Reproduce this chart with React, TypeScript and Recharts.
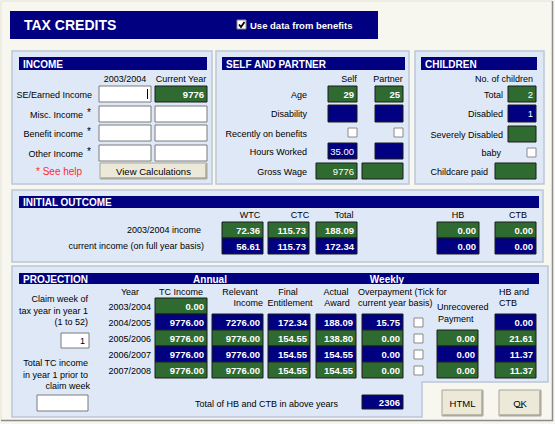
import React from 'react';
import { Surface, Layer, Rectangle, Text } from 'recharts';

// values
const incomeLabels = ['SE/Earned Income', 'Misc. Income', 'Benefit income', 'Other Income'];
const incomePrior = ['', '', '', ''];
const incomeCurrent = ['9776', '', '', ''];

const selfLabels = ['Age', 'Disability', 'Recently on benefits', 'Hours Worked', 'Gross Wage'];
const selfValues = ['29', '', null, '35.00', '9776'];
const partnerValues = ['25', '', null, '', ''];

const childLabels = ['Total', 'Disabled', 'Severely Disabled', 'baby', 'Childcare paid'];
const childValues = ['2', '1', '', null, ''];

const outcomeRows = ['2003/2004 income', 'current income (on full year basis)'];
const outcomeCols = ['WTC', 'CTC', 'Total', 'HB', 'CTB'];
const outcomePrior = ['72.36', '115.73', '188.09', '0.00', '0.00'];
const outcomeCurrent = ['56.61', '115.73', '172.34', '0.00', '0.00'];

const years = ['2003/2004', '2004/2005', '2005/2006', '2006/2007', '2007/2008'];
const tcIncome = ['0.00', '9776.00', '9776.00', '9776.00', '9776.00'];
const relevantIncome = [null, '7276.00', '9776.00', '9776.00', '9776.00'];
const finalEntitlement = [null, '172.34', '154.55', '154.55', '154.55'];
const actualAward = [null, '188.09', '138.80', '154.55', '154.55'];
const overpayment = [null, '15.75', '0.00', '0.00', '0.00'];
const unrecovered = [null, null, '0.00', '0.00', '0.00'];
const hbCtb = [null, '0.00', '21.61', '11.37', '11.37'];
const claimWeek = '1';
const totalHbCtb = '2306';

const NAVY = '#000080';
const GREEN = '#2f6a30';
const PANEL = '#dfe8f7';
const FONT = '"Liberation Sans", Arial, sans-serif';

const Label = ({ x, y, children, anchor = 'end', fill = '#000', size = 9, weight = 'normal' }: any) => (
  <Text x={x} y={y} textAnchor={anchor} fill={fill} fontSize={size} fontWeight={weight} fontFamily={FONT}>
    {children}
  </Text>
);

const Panel = ({ x, y, w, h }: any) => (
  <Rectangle x={x} y={y} width={w} height={h} fill={PANEL} stroke="#bcc6d8" strokeWidth={1.5} />
);

const Bar = ({ x, y, w, h, title }: any) => (
  <Layer>
    <Rectangle x={x} y={y} width={w} height={h} fill={NAVY} />
    <Label x={x + 4} y={y + h - 2.5} anchor="start" fill="#fff" size={10} weight="bold">{title}</Label>
  </Layer>
);

const ValueBox = ({ x, y, w, h = 16, fill, value, bold = true, color = '#fff' }: any) => (
  <Layer>
    <Rectangle x={x} y={y} width={w} height={h} fill={fill} stroke="#1c1c1c" strokeWidth={1} />
    {value ? (
      <Label x={x + w - 3} y={y + h / 2 + 3.5} fill={color} size={9.5} weight={bold ? 'bold' : 'normal'}>{value}</Label>
    ) : null}
  </Layer>
);

const InputBox = ({ x, y, w, h = 16, value }: any) => (
  <Layer>
    <Rectangle x={x} y={y} width={w} height={h} fill="#fff" stroke="#7a7a7a" strokeWidth={1} />
    {value ? <Label x={x + w - 4} y={y + h / 2 + 3.5}>{value}</Label> : null}
  </Layer>
);

const Check = ({ x, y, checked = false }: any) => (
  <Layer>
    <Rectangle x={x} y={y} width={9} height={9} fill="#fff" stroke="#8a8a8a" strokeWidth={1} />
    {checked ? (
      <path d={`M${x + 2},${y + 4.5} L${x + 4},${y + 7} L${x + 7.5},${y + 2}`} stroke="#000" strokeWidth={1.8} fill="none" />
    ) : null}
  </Layer>
);

const Button = ({ x, y, w, h, label }: any) => (
  <Layer>
    <Rectangle x={x} y={y} width={w} height={h} fill="#ece9d8" stroke="#a8a698" strokeWidth={1} />
    <path d={`M${x + 1},${y + h - 1} H${x + w - 1} V${y + 1}`} stroke="#8c8a7e" strokeWidth={1} fill="none" />
    <Label x={x + w / 2} y={y + h / 2 + 3.5} anchor="middle" size={9.5}>{label}</Label>
  </Layer>
);

const rowY = [298, 314, 330, 346, 362];
const rowFill = (i: number) => (i % 2 === 0 ? GREEN : NAVY);

const projCols = [
  { data: relevantIncome, x: 212, w: 51 },
  { data: finalEntitlement, x: 268, w: 42 },
  { data: actualAward, x: 316, w: 40 },
  { data: overpayment, x: 362, w: 41 },
  { data: unrecovered, x: 437, w: 41 },
  { data: hbCtb, x: 495, w: 41 },
];

const outcomeX = [222, 268, 316, 437, 495];
const outcomeW = [41, 41, 41, 42, 41];
const outcomeHead = [250, 300, 344, 458, 518];

export default function App() {
  return (
    <div style={{ position: 'absolute', left: 0, top: 0, width: 555, height: 424, background: '#f7f6ef' }}>
      <Surface width={555} height={424} viewBox={{ x: 0, y: 0, width: 555, height: 424 }}>
        {/* window frame */}
        <path d="M1,420 V1 H552" stroke="#e4e2d6" strokeWidth={1} fill="none" />
        <path d="M1,420.5 H552.5 V1" stroke="#8c8c8c" strokeWidth={1.5} fill="none" />

        {/* title */}
        <Rectangle x={10} y={11} width={368} height={28} fill={NAVY} />
        <Label x={24} y={30} anchor="start" fill="#fff" size={14} weight="bold">TAX CREDITS</Label>
        <Check x={237} y={20} checked />
        <Label x={250} y={29} anchor="start" fill="#fff" size={9.5} weight="bold">Use data from benefits</Label>

        {/* income */}
        <Panel x={12} y={51} w={200} h={133} />
        <Bar x={19} y={57} w={188} h={13} title="INCOME" />
        <Label x={125} y={82} anchor="middle">2003/2004</Label>
        <Label x={181} y={82} anchor="middle">Current Year</Label>
        {incomeLabels.map((t, i) => {
          const y = [86, 106, 125, 145][i];
          return (
            <Layer key={t}>
              <Label x={i === 0 ? 92 : 83} y={y + 11.5}>{t}</Label>
              {i > 0 ? <Label x={91} y={y + 10} size={10}>*</Label> : null}
              <InputBox x={99} y={y} w={52} value={incomePrior[i]} />
              {incomeCurrent[i] ? (
                <ValueBox x={155} y={y} w={52} fill={GREEN} value={incomeCurrent[i]} />
              ) : (
                <InputBox x={155} y={y} w={52} />
              )}
            </Layer>
          );
        })}
        <path d="M147.5,89 V99" stroke="#000" strokeWidth={1} />
        <Label x={36} y={175} anchor="start" fill="#ff2a2a" size={10}>* See help</Label>
        <Button x={100} y={163} w={107} h={16} label="View Calculations" />

        {/* self and partner */}
        <Panel x={216} y={51} w={193} h={133} />
        <Bar x={222} y={57} w={183} h={13} title="SELF AND PARTNER" />
        <Label x={349} y={82} anchor="middle">Self</Label>
        <Label x={388} y={82} anchor="middle">Partner</Label>
        {selfLabels.map((t, i) => {
          const y = [86, 105, 128, 143, 163][i];
          const h = i === 1 ? 17 : 16;
          return (
            <Layer key={t}>
              <Label x={307} y={i === 2 ? 137 : y + 11.5}>{t}</Label>
              {i === 2 ? (
                <Layer>
                  <Check x={348} y={128} />
                  <Check x={394} y={128} />
                </Layer>
              ) : i === 4 ? (
                <Layer>
                  <ValueBox x={316} y={y} w={41} fill={GREEN} value={selfValues[i]} bold={false} />
                  <ValueBox x={362} y={y} w={41} fill={GREEN} value={partnerValues[i]} bold={false} />
                </Layer>
              ) : (
                <Layer>
                  <ValueBox x={328} y={y} w={29} h={h} fill={i === 0 ? GREEN : NAVY} value={selfValues[i]} bold={i === 0} />
                  <ValueBox x={375} y={y} w={28} h={h} fill={i === 0 ? GREEN : NAVY} value={partnerValues[i]} bold={i === 0} />
                </Layer>
              )}
            </Layer>
          );
        })}

        {/* children */}
        <Panel x={415} y={51} w={129} h={133} />
        <Bar x={421} y={57} w={116} h={13} title="CHILDREN" />
        <Label x={533} y={82}>No. of children</Label>
        {childLabels.map((t, i) => {
          const y = [86, 105, 126, 148, 163][i];
          if (i === 3) {
            return (
              <Layer key={t}>
                <Label x={501} y={156}>{t}</Label>
                <Check x={527} y={148} />
              </Layer>
            );
          }
          const wide = i === 4;
          return (
            <Layer key={t}>
              <Label x={wide ? 488 : 503} y={y + 11.5}>{t}</Label>
              <ValueBox x={wide ? 495 : 508} y={y} w={wide ? 41 : 28} h={i === 1 ? 17 : 16}
                fill={i === 1 ? NAVY : GREEN} value={childValues[i]} bold={false} />
            </Layer>
          );
        })}

        {/* initial outcome */}
        <Panel x={12} y={190} w={531} h={72} />
        <Bar x={19} y={196} w={520} h={12} title="INITIAL OUTCOME" />
        <Label x={201} y={233}>{outcomeRows[0]}</Label>
        <Label x={204} y={249}>{outcomeRows[1]}</Label>
        {outcomeCols.map((c, i) => (
          <Layer key={c}>
            <Label x={outcomeHead[i]} y={218} anchor="middle">{c}</Label>
            <ValueBox x={outcomeX[i]} y={222} w={outcomeW[i]} fill={GREEN} value={outcomePrior[i]} />
            <ValueBox x={outcomeX[i]} y={238} w={outcomeW[i]} fill={NAVY} value={outcomeCurrent[i]} />
          </Layer>
        ))}

        {/* projection */}
        <path d="M12,266 H548 V382 H422 V417 H12 Z" fill={PANEL} stroke="#bcc6d8" strokeWidth={1.5} />
        <Rectangle x={19} y={273} width={520} height={11} fill={NAVY} />
        <Label x={23} y={283} anchor="start" fill="#fff" size={10} weight="bold">PROJECTION</Label>
        <Label x={210} y={282.5} anchor="middle" fill="#fff" size={10} weight="bold">Annual</Label>
        <Label x={387} y={282.5} anchor="middle" fill="#fff" size={10} weight="bold">Weekly</Label>

        <Label x={130} y={295} anchor="middle">Year</Label>
        <Label x={181} y={295} anchor="middle">TC Income</Label>
        <Label x={240} y={295} anchor="middle">Relevant</Label>
        <Label x={263} y={306}>Income</Label>
        <Label x={288} y={295} anchor="middle">Final</Label>
        <Label x={290} y={306} anchor="middle">Entitlement</Label>
        <Label x={336} y={295} anchor="middle">Actual</Label>
        <Label x={337} y={306} anchor="middle">Award</Label>
        <Label x={358} y={295} anchor="start">Overpayment (Tick for</Label>
        <Label x={358} y={306} anchor="start">current year basis)</Label>
        <Label x={437} y={310} anchor="start">Unrecovered</Label>
        <Label x={438} y={322} anchor="start">Payment</Label>
        <Label x={499} y={295} anchor="start">HB and</Label>
        <Label x={499} y={306} anchor="start">CTB</Label>

        {years.map((yr, i) => (
          <Layer key={yr}>
            <Label x={151} y={rowY[i] + 12}>{yr}</Label>
            <ValueBox x={155} y={rowY[i]} w={52} fill={rowFill(i)} value={tcIncome[i]} />
            {projCols.map((c) =>
              c.data[i] !== null ? (
                <ValueBox key={c.x} x={c.x} y={rowY[i]} w={c.w} fill={rowFill(i)} value={c.data[i]} />
              ) : null
            )}
            {overpayment[i] !== null ? <Check x={414} y={rowY[i] + 4} /> : null}
          </Layer>
        ))}

        <Label x={88} y={302}>Claim week of</Label>
        <Label x={88} y={314}>tax year in year 1</Label>
        <Label x={88} y={325}>(1 to 52)</Label>
        <InputBox x={61} y={333} w={28} h={15} value={claimWeek} />
        <Label x={88} y={366}>Total TC income</Label>
        <Label x={88} y={378}>in year 1 prior to</Label>
        <Label x={90} y={389}>claim week</Label>
        <InputBox x={37} y={395} w={51} h={16} />

        <Label x={195} y={407} anchor="start">Total of HB and CTB in above years</Label>
        <ValueBox x={362} y={395} w={41} h={14} fill={NAVY} value={totalHbCtb} />

        <Button x={442} y={390} w={41} h={26} label="HTML" />
        <Button x={499} y={390} w={42} h={26} label="OK" />
        <path d="M516,407.5 H523" stroke="#000" strokeWidth={0.8} />
      </Surface>
    </div>
  );
}
